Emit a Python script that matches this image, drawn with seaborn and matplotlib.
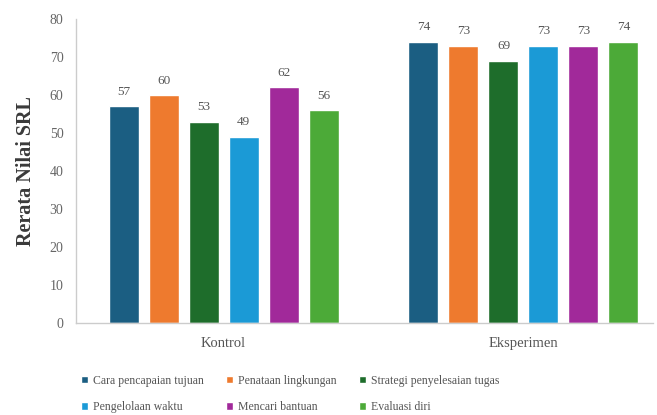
import matplotlib
matplotlib.use("Agg")
import matplotlib.pyplot as plt
import seaborn as sns
import pandas as pd

groups = ["Kontrol", "Eksperimen"]
aspects = ["Cara pencapaian tujuan", "Penataan lingkungan", "Strategi penyelesaian tugas",
           "Pengelolaan waktu", "Mencari bantuan", "Evaluasi diri"]
kontrol = [57, 60, 53, 49, 62, 56]
eksperimen = [74, 73, 69, 73, 73, 74]
colors = ["#1b5e82", "#ee7a2e", "#1e6d2b", "#1b9ad6", "#a1299a", "#4caa38"]

rows = []
for g, vals in zip(groups, [kontrol, eksperimen]):
    for a, v in zip(aspects, vals):
        rows.append({"Kelompok": g, "Aspek": a, "Nilai": v})
df = pd.DataFrame(rows)

sns.set_style("white")
plt.rcParams['font.family'] = ['Liberation Serif', 'DejaVu Serif']

fig = plt.figure(figsize=(6.57, 4.15), dpi=100)
ax = fig.add_axes([76 / 657, 1 - 323 / 415, 577 / 657, (323 - 19) / 415])
sns.barplot(data=df, x="Kelompok", y="Nilai", hue="Aspek", order=groups, hue_order=aspects,
            palette=colors, width=0.8, gap=0.25, saturation=1, ax=ax, legend=True)

for c in ax.containers:
    ax.bar_label(c, fmt="%d", padding=6, fontsize=9.5, color="#555555")

ax.set_ylim(0, 80)
ax.set_yticks(range(0, 81, 10))
ax.set_xlim(-0.492, 1.432)
ax.set_xlabel("")
ax.set_ylabel("Rerata Nilai SRL", fontsize=14.5, color="#3a3a3a", fontweight="bold", labelpad=10)
ax.tick_params(axis="y", labelsize=10, colors="#666666", length=0, pad=9)
ax.tick_params(axis="x", labelsize=10.5, colors="#555555", length=0, pad=10)
for s in ["top", "right"]:
    ax.spines[s].set_visible(False)
for s in ["left", "bottom"]:
    ax.spines[s].set_color("#cccccc")
    ax.spines[s].set_linewidth(1)

handles, labels = ax.get_legend_handles_labels()
ax.legend_.remove()
order = [0, 3, 1, 4, 2, 5]
fig.legend([handles[i] for i in order], [labels[i] for i in order],
           loc="upper left", bbox_to_anchor=(75 / 657, 1 - 369 / 415), ncol=3,
           frameon=False, fontsize=8.5, handlelength=0.6, handleheight=0.6,
           handletextpad=0.4, columnspacing=1.9, labelspacing=1.2, borderpad=0,
           labelcolor="#555555")

fig.savefig("out.png", dpi=100)
